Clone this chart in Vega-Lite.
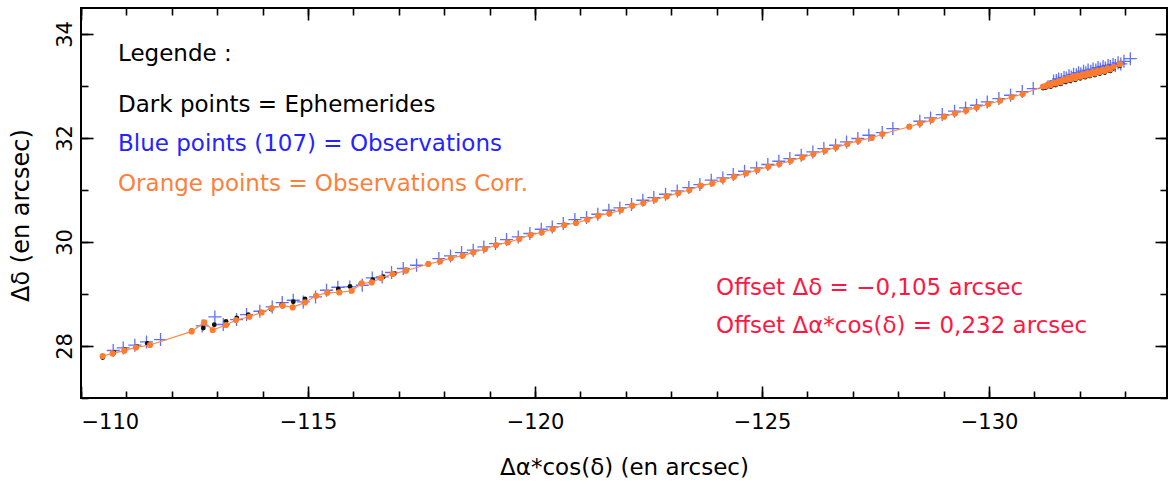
{
"$schema": "https://vega.github.io/schema/vega-lite/v6.json",
"width": 1086, "height": 390,
"autosize": {"type": "none"},
"padding": {"left": 81, "top": 8, "right": 2, "bottom": 97},
"background": "white",
"config": {"view": {"stroke": "black", "strokeWidth": 2},
  "axis": {"grid": false, "domain": false, "labelFont": "DejaVu Sans", "titleFont": "DejaVu Sans", "tickColor": "black", "labelColor": "black", "titleColor": "black", "tickWidth": 1.6, "titleFontWeight": "normal"}},
"resolve": {"axis": {"x": "independent", "y": "independent"}},
"datasets": {
"obs": [
{"xc":-110.478,"yc":27.808,"xe":-110.478,"ye":27.780,"xo":-110.710,"yo":27.913},
{"xc":-110.698,"yc":27.858,"xe":-110.727,"ye":27.877,"xo":-110.930,"yo":27.963},
{"xc":-110.954,"yc":27.910,"xe":-110.969,"ye":27.929,"xo":-111.186,"yo":28.015},
{"xc":-111.211,"yc":27.973,"xe":-111.227,"ye":27.992,"xo":-111.443,"yo":28.078},
{"xc":-111.520,"yc":28.019,"xe":-111.460,"ye":28.050,"xo":-111.752,"yo":28.124},
{"xc":-112.438,"yc":28.281,"xe":-112.438,"ye":28.294,"xo":-112.670,"yo":28.386},
{"xc":-112.716,"yc":28.454,"xe":-112.694,"ye":28.346,"xo":-112.948,"yo":28.559},
{"xc":-112.901,"yc":28.308,"xe":-112.936,"ye":28.410,"xo":-113.133,"yo":28.413},
{"xc":-113.194,"yc":28.404,"xe":-113.194,"ye":28.473,"xo":-113.426,"yo":28.509},
{"xc":-113.414,"yc":28.500,"xe":-113.430,"ye":28.538,"xo":-113.646,"yo":28.605},
{"xc":-113.707,"yc":28.563,"xe":-113.685,"ye":28.602,"xo":-113.939,"yo":28.668},
{"xc":-113.980,"yc":28.646,"xe":-113.958,"ye":28.646,"xo":-114.212,"yo":28.751},
{"xc":-114.200,"yc":28.731,"xe":-114.185,"ye":28.712,"xo":-114.432,"yo":28.836},
{"xc":-114.443,"yc":28.775,"xe":-114.421,"ye":28.794,"xo":-114.675,"yo":28.880},
{"xc":-114.663,"yc":28.742,"xe":-114.676,"ye":28.852,"xo":-114.895,"yo":28.847},
{"xc":-114.934,"yc":28.838,"xe":-114.934,"ye":28.904,"xo":-115.166,"yo":28.943},
{"xc":-115.176,"yc":28.967,"xe":-115.176,"ye":28.962,"xo":-115.408,"yo":29.072},
{"xc":-115.425,"yc":29.025,"xe":-115.425,"ye":29.030,"xo":-115.657,"yo":29.130},
{"xc":-115.689,"yc":29.031,"xe":-115.667,"ye":29.096,"xo":-115.921,"yo":29.136},
{"xc":-115.963,"yc":29.063,"xe":-115.925,"ye":29.146,"xo":-116.195,"yo":29.168},
{"xc":-116.183,"yc":29.204,"xe":-116.167,"ye":29.204,"xo":-116.415,"yo":29.309},
{"xc":-116.403,"yc":29.223,"xe":-116.425,"ye":29.275,"xo":-116.635,"yo":29.328},
{"xc":-116.608,"yc":29.308,"xe":-116.659,"ye":29.333,"xo":-116.840,"yo":29.413},
{"xc":-116.866,"yc":29.385,"xe":-116.901,"ye":29.396,"xo":-117.098,"yo":29.490},
{"xc":-117.159,"yc":29.448,"xe":-117.159,"ye":29.462,"xo":-117.391,"yo":29.553},
{"xc":-117.650,"yc":29.577,"xe":-117.650,"ye":29.582,"xo":-117.882,"yo":29.682},
{"xc":-117.907,"yc":29.627,"xe":-117.907,"ye":29.632,"xo":-118.139,"yo":29.732},
{"xc":-118.150,"yc":29.692,"xe":-118.150,"ye":29.690,"xo":-118.382,"yo":29.797},
{"xc":-118.407,"yc":29.737,"xe":-118.407,"ye":29.745,"xo":-118.639,"yo":29.842},
{"xc":-118.641,"yc":29.800,"xe":-118.641,"ye":29.805,"xo":-118.873,"yo":29.905},
{"xc":-118.899,"yc":29.865,"xe":-118.899,"ye":29.868,"xo":-119.131,"yo":29.970},
{"xc":-119.141,"yc":29.942,"xe":-119.141,"ye":29.935,"xo":-119.373,"yo":30.047},
{"xc":-119.399,"yc":29.992,"xe":-119.399,"ye":30.000,"xo":-119.631,"yo":30.097},
{"xc":-119.654,"yc":30.058,"xe":-119.654,"ye":30.062,"xo":-119.886,"yo":30.163},
{"xc":-119.905,"yc":30.140,"xe":-119.905,"ye":30.130,"xo":-120.137,"yo":30.245},
{"xc":-120.148,"yc":30.185,"xe":-120.148,"ye":30.190,"xo":-120.380,"yo":30.290},
{"xc":-120.390,"yc":30.250,"xe":-120.390,"ye":30.255,"xo":-120.622,"yo":30.355},
{"xc":-120.646,"yc":30.327,"xe":-120.646,"ye":30.320,"xo":-120.878,"yo":30.432},
{"xc":-120.903,"yc":30.365,"xe":-120.903,"ye":30.380,"xo":-121.135,"yo":30.470},
{"xc":-121.152,"yc":30.429,"xe":-121.152,"ye":30.440,"xo":-121.384,"yo":30.534},
{"xc":-121.394,"yc":30.506,"xe":-121.394,"ye":30.500,"xo":-121.626,"yo":30.611},
{"xc":-121.637,"yc":30.550,"xe":-121.637,"ye":30.560,"xo":-121.869,"yo":30.655},
{"xc":-121.894,"yc":30.615,"xe":-121.894,"ye":30.622,"xo":-122.126,"yo":30.720},
{"xc":-122.143,"yc":30.698,"xe":-122.143,"ye":30.690,"xo":-122.375,"yo":30.803},
{"xc":-122.385,"yc":30.750,"xe":-122.385,"ye":30.752,"xo":-122.617,"yo":30.855},
{"xc":-122.643,"yc":30.813,"xe":-122.643,"ye":30.815,"xo":-122.875,"yo":30.918},
{"xc":-122.901,"yc":30.877,"xe":-122.901,"ye":30.880,"xo":-123.133,"yo":30.982},
{"xc":-123.156,"yc":30.942,"xe":-123.156,"ye":30.945,"xo":-123.388,"yo":31.047},
{"xc":-123.399,"yc":31.000,"xe":-123.399,"ye":31.005,"xo":-123.631,"yo":31.105},
{"xc":-123.650,"yc":31.083,"xe":-123.650,"ye":31.070,"xo":-123.882,"yo":31.188},
{"xc":-123.905,"yc":31.127,"xe":-123.905,"ye":31.130,"xo":-124.137,"yo":31.232},
{"xc":-124.134,"yc":31.192,"xe":-124.134,"ye":31.190,"xo":-124.366,"yo":31.297},
{"xc":-124.383,"yc":31.256,"xe":-124.383,"ye":31.255,"xo":-124.615,"yo":31.361},
{"xc":-124.648,"yc":31.319,"xe":-124.648,"ye":31.320,"xo":-124.880,"yo":31.424},
{"xc":-124.896,"yc":31.385,"xe":-124.896,"ye":31.385,"xo":-125.128,"yo":31.490},
{"xc":-125.139,"yc":31.448,"xe":-125.139,"ye":31.445,"xo":-125.371,"yo":31.553},
{"xc":-125.381,"yc":31.500,"xe":-125.381,"ye":31.505,"xo":-125.613,"yo":31.605},
{"xc":-125.632,"yc":31.563,"xe":-125.632,"ye":31.568,"xo":-125.864,"yo":31.668},
{"xc":-125.888,"yc":31.627,"xe":-125.888,"ye":31.630,"xo":-126.120,"yo":31.732},
{"xc":-126.130,"yc":31.692,"xe":-126.130,"ye":31.692,"xo":-126.362,"yo":31.797},
{"xc":-126.388,"yc":31.756,"xe":-126.388,"ye":31.755,"xo":-126.620,"yo":31.861},
{"xc":-126.630,"yc":31.819,"xe":-126.630,"ye":31.818,"xo":-126.862,"yo":31.924},
{"xc":-126.879,"yc":31.885,"xe":-126.879,"ye":31.880,"xo":-127.111,"yo":31.990},
{"xc":-127.121,"yc":31.948,"xe":-127.121,"ye":31.942,"xo":-127.353,"yo":32.053},
{"xc":-127.416,"yc":32.000,"xe":-127.416,"ye":32.015,"xo":-127.648,"yo":32.105},
{"xc":-127.650,"yc":32.077,"xe":-127.650,"ye":32.075,"xo":-127.882,"yo":32.182},
{"xc":-128.244,"yc":32.217,"xe":-128.244,"ye":32.225,"xo":-128.476,"yo":32.322},
{"xc":-128.480,"yc":32.281,"xe":-128.480,"ye":32.285,"xo":-128.712,"yo":32.386},
{"xc":-128.738,"yc":32.346,"xe":-128.738,"ye":32.350,"xo":-128.970,"yo":32.451},
{"xc":-129.009,"yc":32.410,"xe":-129.009,"ye":32.418,"xo":-129.241,"yo":32.515},
{"xc":-129.251,"yc":32.473,"xe":-129.251,"ye":32.478,"xo":-129.483,"yo":32.578},
{"xc":-129.493,"yc":32.525,"xe":-129.493,"ye":32.540,"xo":-129.725,"yo":32.630},
{"xc":-129.729,"yc":32.588,"xe":-129.729,"ye":32.598,"xo":-129.961,"yo":32.693},
{"xc":-129.985,"yc":32.654,"xe":-129.985,"ye":32.662,"xo":-130.217,"yo":32.759},
{"xc":-130.242,"yc":32.717,"xe":-130.242,"ye":32.725,"xo":-130.474,"yo":32.822},
{"xc":-130.500,"yc":32.788,"xe":-130.500,"ye":32.790,"xo":-130.732,"yo":32.893},
{"xc":-130.742,"yc":32.846,"xe":-130.742,"ye":32.850,"xo":-130.974,"yo":32.951},
{"xc":-131.19,"yc":32.99,"xe":-131.19,"ye":32.96,"xo":-131.422,"yo":33.095},
{"xc":-131.25,"yc":33.00,"xe":-131.25,"ye":32.97,"xo":-131.482,"yo":33.105},
{"xc":-131.30,"yc":33.03,"xe":-131.30,"ye":33.00,"xo":-131.532,"yo":33.135},
{"xc":-131.36,"yc":33.02,"xe":-131.36,"ye":32.99,"xo":-131.592,"yo":33.125},
{"xc":-131.42,"yc":33.06,"xe":-131.42,"ye":33.03,"xo":-131.652,"yo":33.165},
{"xc":-131.47,"yc":33.05,"xe":-131.47,"ye":33.02,"xo":-131.702,"yo":33.155},
{"xc":-131.53,"yc":33.09,"xe":-131.53,"ye":33.06,"xo":-131.762,"yo":33.195},
{"xc":-131.58,"yc":33.07,"xe":-131.58,"ye":33.04,"xo":-131.812,"yo":33.175},
{"xc":-131.63,"yc":33.12,"xe":-131.63,"ye":33.09,"xo":-131.862,"yo":33.225},
{"xc":-131.69,"yc":33.11,"xe":-131.69,"ye":33.08,"xo":-131.922,"yo":33.215},
{"xc":-131.74,"yc":33.15,"xe":-131.74,"ye":33.12,"xo":-131.972,"yo":33.255},
{"xc":-131.79,"yc":33.13,"xe":-131.79,"ye":33.10,"xo":-132.022,"yo":33.235},
{"xc":-131.85,"yc":33.18,"xe":-131.85,"ye":33.15,"xo":-132.082,"yo":33.285},
{"xc":-131.90,"yc":33.15,"xe":-131.90,"ye":33.12,"xo":-132.132,"yo":33.255},
{"xc":-131.95,"yc":33.20,"xe":-131.95,"ye":33.17,"xo":-132.182,"yo":33.305},
{"xc":-132.01,"yc":33.18,"xe":-132.01,"ye":33.15,"xo":-132.242,"yo":33.285},
{"xc":-132.06,"yc":33.22,"xe":-132.06,"ye":33.19,"xo":-132.292,"yo":33.325},
{"xc":-132.12,"yc":33.20,"xe":-132.12,"ye":33.17,"xo":-132.352,"yo":33.305},
{"xc":-132.17,"yc":33.25,"xe":-132.17,"ye":33.22,"xo":-132.402,"yo":33.355},
{"xc":-132.22,"yc":33.22,"xe":-132.22,"ye":33.19,"xo":-132.452,"yo":33.325},
{"xc":-132.28,"yc":33.27,"xe":-132.28,"ye":33.24,"xo":-132.512,"yo":33.375},
{"xc":-132.33,"yc":33.24,"xe":-132.33,"ye":33.21,"xo":-132.562,"yo":33.345},
{"xc":-132.39,"yc":33.29,"xe":-132.39,"ye":33.26,"xo":-132.622,"yo":33.395},
{"xc":-132.44,"yc":33.27,"xe":-132.44,"ye":33.24,"xo":-132.672,"yo":33.375},
{"xc":-132.50,"yc":33.31,"xe":-132.50,"ye":33.28,"xo":-132.732,"yo":33.415},
{"xc":-132.55,"yc":33.29,"xe":-132.55,"ye":33.26,"xo":-132.782,"yo":33.395},
{"xc":-132.61,"yc":33.34,"xe":-132.61,"ye":33.31,"xo":-132.842,"yo":33.445},
{"xc":-132.67,"yc":33.32,"xe":-132.67,"ye":33.29,"xo":-132.902,"yo":33.425},
{"xc":-132.74,"yc":33.37,"xe":-132.74,"ye":33.34,"xo":-132.972,"yo":33.475},
{"xc":-132.88,"yc":33.42,"xe":-132.88,"ye":33.39,"xo":-133.112,"yo":33.525}
],
"notes": [
{"x":-110.815,"y":33.473,"g":"k","label":"Legende :"},
{"x":-110.815,"y":32.506,"g":"k","label":"Dark points = Ephemerides"},
{"x":-110.815,"y":31.756,"g":"b","label":"Blue points (107) = Observations"},
{"x":-110.815,"y":30.987,"g":"o","label":"Orange points = Observations Corr."},
{"x":-123.987,"y":28.977,"g":"r","label":"Offset Δδ = −0,105 arcsec"},
{"x":-123.987,"y":28.246,"g":"r","label":"Offset Δα*cos(δ) = 0,232 arcsec"}
]
},
"layer": [
{
 "data": {"name": "obs"},
 "mark": {"type": "point", "shape": "M-1,0L1,0M0,-1L0,1", "filled": false, "stroke": "#4258ff", "strokeWidth": 1.3, "size": 170, "opacity": 0.85},
 "encoding": {
  "x": {"field": "xo", "type": "quantitative", "scale": {"domain": [-133.92, -110], "reverse": true, "nice": false, "zero": false},
   "axis": {"orient": "bottom", "values": [-110, -115, -120, -125, -130], "format": "d", "ticks": false, "labelFontSize": 21, "labelPadding": 13, "title": "Δα*cos(δ) (en arcsec)", "titleFontSize": 23, "titlePadding": 24}},
  "y": {"field": "yo", "type": "quantitative", "scale": {"domain": [27, 34.5], "nice": false, "zero": false},
   "axis": {"orient": "left", "values": [28, 30, 32, 34], "format": "d", "ticks": false, "labelFontSize": 21, "labelAngle": -90, "labelAlign": "center", "labelBaseline": "bottom", "labelPadding": 6, "title": "Δδ (en arcsec)", "titleFontSize": 24, "titleX": -60, "titleY": 207, "titleBaseline": "middle"}}
 }
},
{
 "data": {"name": "obs"},
 "mark": {"type": "circle", "color": "#111111", "size": 24, "opacity": 1},
 "encoding": {
  "x": {"field": "xe", "type": "quantitative", "scale": {"domain": [-133.92, -110], "reverse": true, "nice": false, "zero": false},
   "axis": {"orient": "bottom", "values": [-110, -115, -120, -125, -130], "labels": false, "tickSize": 12, "offset": -12, "title": null}},
  "y": {"field": "ye", "type": "quantitative", "scale": {"domain": [27, 34.5], "nice": false, "zero": false},
   "axis": {"orient": "left", "values": [28, 30, 32, 34], "labels": false, "tickSize": 12, "offset": -12, "title": null}}
 }
},
{
 "data": {"name": "obs"},
 "mark": {"type": "line", "color": "#ff8a45", "strokeWidth": 1.2},
 "encoding": {
  "x": {"field": "xc", "type": "quantitative", "scale": {"domain": [-133.92, -110], "reverse": true, "nice": false, "zero": false},
   "axis": {"orient": "bottom", "values": [-110, -111, -112, -113, -114, -115, -116, -117, -118, -119, -120, -121, -122, -123, -124, -125, -126, -127, -128, -129, -130, -131, -132, -133], "labels": false, "tickSize": 7, "offset": -7, "title": null}},
  "y": {"field": "yc", "type": "quantitative", "scale": {"domain": [27, 34.5], "nice": false, "zero": false},
   "axis": {"orient": "left", "values": [27, 28, 29, 30, 31, 32, 33, 34], "labels": false, "tickSize": 7, "offset": -7, "title": null}}
 }
},
{
 "data": {"name": "obs"},
 "mark": {"type": "circle", "color": "#ff7b2e", "size": 38, "opacity": 1},
 "encoding": {
  "x": {"field": "xc", "type": "quantitative", "scale": {"domain": [-133.92, -110], "reverse": true, "nice": false, "zero": false},
   "axis": {"orient": "top", "values": [-110, -115, -120, -125, -130], "labels": false, "tickSize": 12, "offset": -12, "title": null}},
  "y": {"field": "yc", "type": "quantitative", "scale": {"domain": [27, 34.5], "nice": false, "zero": false},
   "axis": {"orient": "right", "values": [28, 30, 32, 34], "labels": false, "tickSize": 12, "offset": -12, "title": null}}
 }
},
{
 "data": {"name": "notes"},
 "mark": {"type": "text", "align": "left", "baseline": "alphabetic", "font": "DejaVu Sans", "fontSize": 23},
 "encoding": {
  "x": {"field": "x", "type": "quantitative", "scale": {"domain": [-133.92, -110], "reverse": true, "nice": false, "zero": false},
   "axis": {"orient": "top", "values": [-110, -111, -112, -113, -114, -115, -116, -117, -118, -119, -120, -121, -122, -123, -124, -125, -126, -127, -128, -129, -130, -131, -132, -133], "labels": false, "tickSize": 7, "offset": -7, "title": null}},
  "y": {"field": "y", "type": "quantitative", "scale": {"domain": [27, 34.5], "nice": false, "zero": false},
   "axis": {"orient": "right", "values": [27, 28, 29, 30, 31, 32, 33, 34], "labels": false, "tickSize": 7, "offset": -7, "title": null}},
  "text": {"field": "label", "type": "nominal"},
  "color": {"field": "g", "type": "nominal", "scale": {"domain": ["k", "b", "o", "r"], "range": ["#000000", "#2424ff", "#ff7f3a", "#ff1744"]}, "legend": null}
 }
}
]
}
